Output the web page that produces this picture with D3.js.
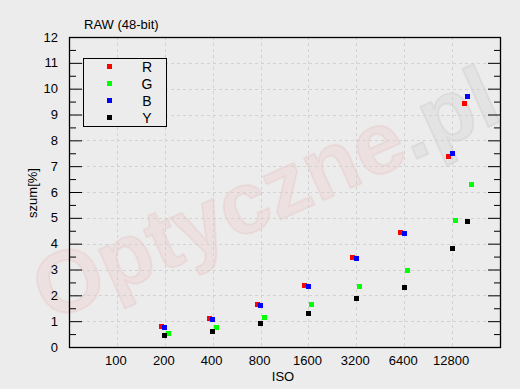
<!DOCTYPE html>
<html>
<head>
<meta charset="utf-8">
<script src="https://cdn.jsdelivr.net/npm/d3@7"></script>
<style>
  body { margin: 0; background: #ececec; }
  svg { display: block; font-family: "Liberation Sans", Arial, sans-serif; }
</style>
</head>
<body>
<div id="chart"></div>
<script>
// ISO values measured, and the labelled ticks
const isoValues = [200, 400, 800, 1600, 3200, 6400, 12800, 16000];
const isoTicks = [100, 200, 400, 800, 1600, 3200, 6400, 12800];
const yTicks = [0, 1, 2, 3, 4, 5, 6, 7, 8, 9, 10, 11, 12];

// noise [%] per channel
const seriesNames = ['R', 'G', 'B', 'Y'];
const noiseR = [0.81, 1.12, 1.66, 2.39, 3.48, 4.44, 7.39, 9.44];
const noiseG = [0.53, 0.77, 1.15, 1.66, 2.35, 2.97, 4.91, 6.30];
const noiseB = [0.77, 1.08, 1.62, 2.35, 3.44, 4.41, 7.50, 9.71];
const noiseY = [0.46, 0.61, 0.92, 1.31, 1.89, 2.32, 3.83, 4.87];

const colors = {R: '#ff0000', G: '#00ff00', B: '#0000ff', Y: '#000000'};
const dodge = {R: -3.5, G: 3.5, B: 0, Y: 0};
const series = [
  {name: 'R', values: noiseR},
  {name: 'G', values: noiseG},
  {name: 'B', values: noiseB},
  {name: 'Y', values: noiseY}
];

const width = 520, height = 389;
const plotL = 69, plotR = 500, plotT = 37, plotB = 347;

const svg = d3.select('#chart').append('svg')
  .attr('width', width)
  .attr('height', height);

svg.append('rect').attr('width', width).attr('height', height).attr('fill', '#ececec');

const x = d3.scaleLog().base(2).domain([50, 25600]).range([plotL, plotR]);
const y = d3.scaleLinear().domain([0, 12]).range([plotB, plotT]);

// watermark
const wm = svg.append('text')
  .attr('transform', 'translate(268,200) rotate(-24)')
  .attr('text-anchor', 'middle')
  .attr('dominant-baseline', 'middle')
  .style('font-size', '88px')
  .style('font-weight', 'bold');
wm.append('tspan').text('Optyczne')
  .attr('fill', 'rgba(235,40,40,0.06)')
  .attr('stroke', 'rgba(200,0,0,0.05)')
  .attr('stroke-width', 2);
wm.append('tspan').text('.pl')
  .attr('fill', 'rgba(0,0,0,0.035)')
  .attr('stroke', 'rgba(0,0,0,0.05)')
  .attr('stroke-width', 2);

// grid
const grid = svg.append('g')
  .attr('stroke', '#d2d2d2')
  .attr('stroke-dasharray', '3,3');
grid.selectAll('.gx').data(isoTicks).enter().append('line')
  .attr('x1', d => Math.round(x(d)) + 0.5).attr('x2', d => Math.round(x(d)) + 0.5)
  .attr('y1', plotT).attr('y2', plotB);
grid.selectAll('.gy').data(yTicks.slice(1, -1)).enter().append('line')
  .attr('x1', plotL).attr('x2', plotR)
  .attr('y1', d => Math.round(y(d)) + 0.5).attr('y2', d => Math.round(y(d)) + 0.5);

// y axes (left and right), major + minor ticks inward
const halfTicks = d3.range(0.5, 12, 1);
const yLeft = svg.append('g').attr('transform', `translate(${plotL},0)`)
  .call(d3.axisRight(y).tickValues(yTicks).tickSize(13).tickFormat(''));
yLeft.append('g').call(d3.axisRight(y).tickValues(halfTicks).tickSize(7).tickFormat(''));
const yRight = svg.append('g').attr('transform', `translate(${plotR},0)`)
  .call(d3.axisLeft(y).tickValues(yTicks).tickSize(12).tickFormat(''));
yRight.append('g').call(d3.axisLeft(y).tickValues(halfTicks).tickSize(6).tickFormat(''));
svg.selectAll('.domain').remove();
svg.selectAll('.tick line').attr('stroke', '#000');

// y tick labels
svg.append('g').selectAll('text').data(yTicks).enter().append('text')
  .attr('x', 58).attr('y', d => y(d))
  .attr('dy', '0.35em')
  .attr('text-anchor', 'end')
  .style('font-size', '13px')
  .text(d => d);

// x tick labels
svg.append('g').selectAll('text').data(isoTicks).enter().append('text')
  .attr('x', d => x(d) - 1).attr('y', 364.5)
  .attr('text-anchor', 'middle')
  .style('font-size', '13px')
  .text(d => d);

// frame
svg.append('rect')
  .attr('x', plotL + 0.5).attr('y', plotT + 0.5)
  .attr('width', plotR - plotL).attr('height', plotB - plotT)
  .attr('fill', 'none').attr('stroke', '#000').attr('stroke-width', 1.3);

// points
series.forEach(s => {
  svg.append('g').selectAll('rect').data(s.values).enter().append('rect')
    .attr('x', (d, i) => Math.round(x(isoValues[i]) + dodge[s.name] - 2.5))
    .attr('y', d => Math.round(y(d) - 2.5))
    .attr('width', 5).attr('height', 5)
    .attr('fill', colors[s.name]);
});

// titles
svg.append('text').attr('x', 84).attr('y', 28.5)
  .style('font-size', '13px').text('RAW (48-bit)');
svg.append('text').attr('x', 283).attr('y', 381)
  .attr('text-anchor', 'middle').style('font-size', '13px').text('ISO');
svg.append('text').attr('transform', 'translate(37,193) rotate(-90)')
  .attr('text-anchor', 'middle').style('font-size', '13px').text('szum[%]');

// legend
const legend = svg.append('g');
legend.append('rect')
  .attr('x', 83.5).attr('y', 58.5).attr('width', 83).attr('height', 68)
  .attr('fill', '#ececec').attr('stroke', '#000');
seriesNames.forEach((n, i) => {
  const ly = 66.5 + i * 17;
  legend.append('rect')
    .attr('x', 107).attr('y', Math.round(ly - 2.5))
    .attr('width', 5).attr('height', 5)
    .attr('fill', colors[n]);
  legend.append('text')
    .attr('x', 147).attr('y', ly).attr('dy', '0.36em')
    .attr('text-anchor', 'middle')
    .style('font-size', '14px')
    .text(n);
});
</script>
</body>
</html>
